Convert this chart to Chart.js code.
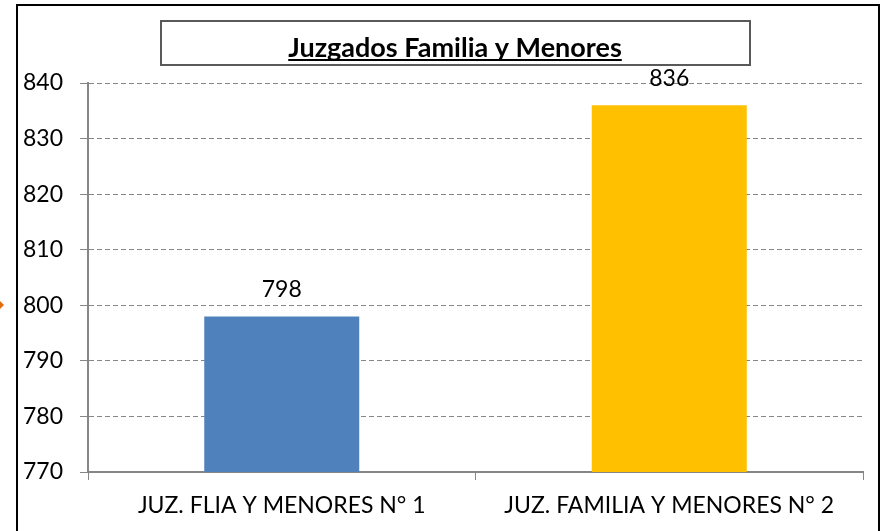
<!DOCTYPE html>
<html>
<head>
<meta charset="utf-8">
<script src="https://cdn.jsdelivr.net/npm/chart.js@4"></script>
<style>
  body { margin: 0; background: #fff; }
  #wrap { position: relative; width: 887px; height: 531px; }
</style>
</head>
<body>
<div id="wrap"><canvas id="myChart" width="887" height="531"></canvas></div>
<script>
const chartTitle = 'Juzgados Familia y Menores';
const categories = ['JUZ. FLIA Y MENORES N° 1', 'JUZ. FAMILIA Y MENORES N° 2'];
const values = [798, 836];
const barColors = ['#4F81BD', '#FFC000'];
const yMin = 770;
const yMax = 840;
const yStep = 10;

const fontName = 'Lato, "Open Sans", sans-serif';

// frame, title box and value labels
const decorations = {
    id: 'decorations',
    beforeDraw(chart) {
        const c = chart.ctx;
        c.save();
        c.fillStyle = '#fff';
        c.fillRect(0, 0, chart.width, chart.height);
        c.strokeStyle = '#000';
        c.lineWidth = 2;
        c.beginPath();
        c.moveTo(17, 540);
        c.lineTo(17, 5);
        c.lineTo(879, 5);
        c.lineTo(879, 540);
        c.stroke();
        // little orange marker on the left edge
        c.fillStyle = '#E46C0A';
        c.beginPath();
        c.moveTo(0, 301);
        c.lineTo(4, 305);
        c.lineTo(0, 309);
        c.fill();
        c.restore();
    },
    afterDraw(chart) {
        const c = chart.ctx;
        c.save();
        // title box
        c.strokeStyle = '#595959';
        c.lineWidth = 2;
        c.strokeRect(161, 21, 589, 44);
        c.font = 'bold 27px ' + fontName;
        c.fillStyle = '#000';
        c.textAlign = 'center';
        c.textBaseline = 'alphabetic';
        const tw = c.measureText(chartTitle).width;
        c.fillText(chartTitle, 455, 57);
        c.fillRect(455 - tw / 2, 59, tw, 2);

        // value labels
        c.font = '23px ' + fontName;
        const meta = chart.getDatasetMeta(0);
        meta.data.forEach((bar, i) => {
            c.fillText(values[i], bar.x, bar.y - 19);
        });
        c.restore();
    }
};

new Chart(document.getElementById('myChart'), {
    type: 'bar',
    data: {
        labels: categories,
        datasets: [{
            data: values,
            backgroundColor: barColors,
            barPercentage: 0.4,
            categoryPercentage: 1.0
        }]
    },
    options: {
        responsive: false,
        animation: false,
        layout: { padding: { top: 83, right: 24, left: 0, bottom: 0 } },
        plugins: {
            legend: { display: false },
            tooltip: { enabled: false },
            title: { display: false }
        },
        scales: {
            x: {
                offset: true,
                grid: {
                    display: true,
                    offset: true,
                    drawOnChartArea: false,
                    tickLength: 8,
                    color: '#868686'
                },
                border: { color: '#868686', width: 2 },
                ticks: {
                    color: '#000',
                    font: { family: fontName, size: 23 },
                    padding: 12
                },
                afterFit(scale) { scale.height = 59; }
            },
            y: {
                min: yMin,
                max: yMax,
                grid: {
                    color: '#868686',
                    tickLength: 8,
                    lineWidth: 1
                },
                border: { color: '#868686', width: 2, dash: [5, 3] },
                ticks: {
                    stepSize: yStep,
                    color: '#000',
                    font: { family: fontName, size: 23 },
                    padding: 17
                },
                afterFit(scale) { scale.width = 88; }
            }
        }
    },
    plugins: [decorations]
});
</script>
</body>
</html>
